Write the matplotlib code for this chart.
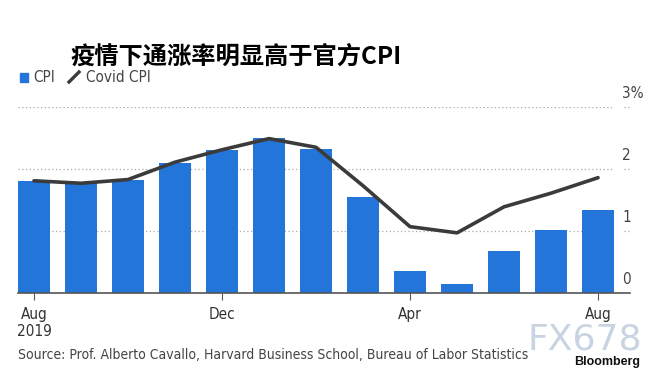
import numpy as np
import matplotlib.pyplot as plt
from matplotlib.lines import Line2D
from matplotlib.patches import Rectangle
from matplotlib import font_manager

months = ['Aug', 'Sep', 'Oct', 'Nov', 'Dec', 'Jan', 'Feb', 'Mar', 'Apr', 'May', 'Jun', 'Jul', 'Aug']
cpi = [1.80, 1.77, 1.82, 2.10, 2.30, 2.50, 2.33, 1.55, 0.36, 0.14, 0.67, 1.02, 1.34]
covid_cpi = [1.81, 1.77, 1.83, 2.11, 2.31, 2.49, 2.35, 1.73, 1.07, 0.97, 1.39, 1.61, 1.86]
tick_idx = [0, 4, 8, 12]
tick_labels = ['Aug\n2019', 'Dec', 'Apr', 'Aug']
y_ticks = [0, 1, 2, 3]
y_labels = ['0', '1', '2', '3%']

names = {f.name for f in font_manager.fontManager.ttflist}
cond = 'DejaVu Sans'
for n in ['Liberation Sans Narrow', 'DejaVu Sans Condensed']:
    if n in names:
        cond = n
        break
plt.rcParams['font.family'] = [cond, 'DejaVu Sans']
plt.rcParams['font.stretch'] = 'condensed'

blue = '#2475da'
dark = '#3b3b3b'
grey = '#555555'

fig = plt.figure(figsize=(6.58, 3.78), dpi=100)
ax = fig.add_axes([18 / 658, 85 / 378, 612 / 658, 186 / 378])

x = np.arange(len(months))
ax.bar(x, cpi, width=0.68, color=blue, zorder=2)
ax.plot(x, covid_cpi, color=dark, lw=2.6, solid_capstyle='round', zorder=3)

ax.set_xlim(-0.34, 12.68)
ax.set_ylim(0, 3)

# dotted gridlines, with small stubs next to the labels
for v in y_ticks[1:]:
    ax.plot([-0.34, 12.34], [v, v], ls=(0, (1, 2)), color='#aaaaaa', lw=0.9, zorder=1)
    ax.plot([12.55, 12.68], [v, v], ls=(0, (1, 2)), color='#aaaaaa', lw=0.9, zorder=1, clip_on=False)
for v, lab in zip(y_ticks, y_labels):
    ax.text(12.52, v + 0.1, lab, ha='left', va='bottom', fontsize=11, color='#444444')

for s in ['top', 'right', 'left']:
    ax.spines[s].set_visible(False)
ax.spines['bottom'].set_color(grey)
ax.spines['bottom'].set_linewidth(1.2)
ax.set_yticks([])
ax.set_xticks(tick_idx)
ax.set_xticklabels(tick_labels, fontsize=11, color='#333333', ha='center')
ax.tick_params(axis='x', direction='out', length=5, color=grey, pad=5)

fig.text(70 / 658, 1 - 57 / 378, '疫情下通涨率明显高于官方CPI', fontsize=17.5, fontweight='bold',
         family=['Noto Sans CJK SC', 'DejaVu Sans'], va='center', ha='left', color='black')

# legend
fig.patches.append(Rectangle((20 / 658, 1 - 82 / 378), 8 / 658, 9 / 378, color=blue,
                             transform=fig.transFigure))
fig.text(33 / 658, 1 - 77 / 378, 'CPI', fontsize=11, color='#444444', va='center')
fig.lines.append(Line2D([69 / 658, 79 / 658], [1 - 82 / 378, 1 - 72 / 378], color=dark, lw=2.4,
                        transform=fig.transFigure))
fig.text(86 / 658, 1 - 77 / 378, 'Covid CPI', fontsize=11, color='#444444', va='center')

src = fig.text(18 / 658, 1 - 355 / 378,
               'Source: Prof. Alberto Cavallo, Harvard Business School, Bureau of Labor Statistics',
               fontsize=11, color='#444444', va='center')
fig.text(585 / 658, 1 - 340 / 378, 'FX678', fontsize=26, color='#c9d4e2', va='center', ha='center',
         family=['DejaVu Sans'], stretch='normal')
fig.text(640 / 658, 1 - 362 / 378, 'Bloomberg', fontsize=9, fontweight='bold', color='#111111',
         va='center', ha='right', family=['Liberation Sans', 'DejaVu Sans'], stretch='normal')

# keep the source line from running into the watermark
fig.canvas.draw()
w = src.get_window_extent().width
if w > 508:
    src.set_fontsize(11 * 508 / w)

fig.savefig('out.png', dpi=100)
